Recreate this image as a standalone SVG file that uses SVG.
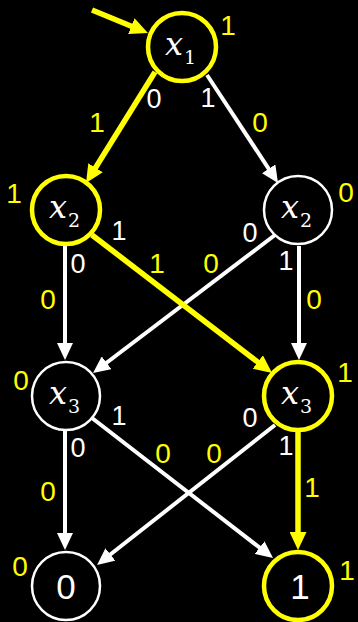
<svg xmlns="http://www.w3.org/2000/svg" width="358" height="622" viewBox="0 0 358 622">
<style>
.w{stroke:#fff;stroke-width:4;fill:none}
.y{stroke:#ff0;stroke-width:5.5;fill:none}
.nw{stroke:#fff;stroke-width:2.5;fill:#000}
.ny{stroke:#ff0;stroke-width:4.5;fill:#000}
.lw{font-family:"Liberation Sans",Arial,sans-serif;font-size:27px;fill:#fff;text-anchor:middle}
.ly{font-family:"Liberation Sans",Arial,sans-serif;font-size:28px;fill:#ff0;text-anchor:middle}
.mx{font-family:"DejaVu Serif",serif;font-style:italic;font-size:32px;fill:#fff}
.ms{font-family:"DejaVu Serif",serif;font-style:normal;font-size:19px;fill:#fff}
.t{font-family:"Liberation Sans",Arial,sans-serif;font-size:35px;fill:#fff;text-anchor:middle}
</style>
<defs>
<marker id="aw" markerUnits="userSpaceOnUse" markerWidth="17" markerHeight="16" viewBox="0 0 17 16" refX="7" refY="8" orient="auto"><path d="M0,0 L17,8 L0,16 Z" fill="#fff"/></marker>
<marker id="ay" markerUnits="userSpaceOnUse" markerWidth="18" markerHeight="17" viewBox="0 0 18 17" refX="8" refY="8.5" orient="auto"><path d="M0,0 L18,8.5 L0,17 Z" fill="#ff0"/></marker>
</defs>
<rect width="358" height="622" fill="#000"/>
<g id="connectors">
<line class="y" x1="92" y1="10" x2="138.7" y2="29.2" marker-end="url(#ay)"/>
<line class="y" x1="155" y1="72" x2="91.3" y2="174.5" marker-end="url(#ay)"/>
<line class="w" x1="207" y1="75" x2="272.5" y2="174.6" marker-end="url(#aw)"/>
<line class="w" x1="65" y1="246" x2="65" y2="350" marker-end="url(#aw)"/>
<line class="w" x1="275" y1="235" x2="101" y2="367" marker-end="url(#aw)"/>
<line class="y" x1="92" y1="235" x2="264.1" y2="366.9" marker-end="url(#ay)"/>
<line class="w" x1="299" y1="246" x2="299" y2="350" marker-end="url(#aw)"/>
<line class="w" x1="65" y1="431" x2="65" y2="540" marker-end="url(#aw)"/>
<line class="w" x1="92" y1="418" x2="265.1" y2="551.9" marker-end="url(#aw)"/>
<line class="w" x1="275" y1="425" x2="104.9" y2="558.8" marker-end="url(#aw)"/>
<line class="y" x1="298" y1="431" x2="298" y2="540" marker-end="url(#ay)"/>
</g>
<g id="node-x1">
<circle class="ny" cx="182" cy="47" r="34"/>
<text class="mx" x="165" y="55">x<tspan class="ms" dx="1" dy="9">1</tspan></text>
<text class="ly" x="228" y="35">1</text>
</g>
<g id="node-x2-left">
<circle class="ny" cx="66" cy="210" r="34"/>
<text class="mx" x="49" y="218">x<tspan class="ms" dx="1" dy="9">2</tspan></text>
<text class="ly" x="14" y="203">1</text>
</g>
<g id="node-x2-right">
<circle class="nw" cx="298" cy="210" r="34"/>
<text class="mx" x="281" y="218">x<tspan class="ms" dx="1" dy="9">2</tspan></text>
<text class="ly" x="346" y="202">0</text>
</g>
<g id="node-x3-left">
<circle class="nw" cx="66" cy="396" r="34"/>
<text class="mx" x="49" y="404">x<tspan class="ms" dx="1" dy="9">3</tspan></text>
<text class="ly" x="21" y="390">0</text>
</g>
<g id="node-x3-right">
<circle class="ny" cx="298" cy="396" r="34"/>
<text class="mx" x="281" y="404">x<tspan class="ms" dx="1" dy="9">3</tspan></text>
<text class="ly" x="345" y="382">1</text>
</g>
<g id="node-0">
<circle class="nw" cx="66" cy="586" r="34"/>
<text class="t" x="66" y="599">0</text>
<text class="ly" x="20" y="576">0</text>
</g>
<g id="node-1">
<circle class="ny" cx="298" cy="586" r="34"/>
<text class="t" x="300" y="599">1</text>
<text class="ly" x="347" y="580">1</text>
</g>
<g id="edge-labels">
<text class="lw" x="154" y="108">0</text>
<text class="lw" x="208" y="107">1</text>
<text class="ly" x="97" y="132">1</text>
<text class="ly" x="260" y="132">0</text>
<text class="lw" x="119" y="240">1</text>
<text class="lw" x="78" y="273">0</text>
<text class="ly" x="157" y="273">1</text>
<text class="ly" x="211" y="273">0</text>
<text class="lw" x="250" y="242">0</text>
<text class="lw" x="286" y="270">1</text>
<text class="ly" x="48" y="309">0</text>
<text class="ly" x="314" y="309">0</text>
<text class="lw" x="119" y="425">1</text>
<text class="lw" x="78" y="457">0</text>
<text class="ly" x="163" y="463">0</text>
<text class="ly" x="214" y="463">0</text>
<text class="lw" x="250" y="427">0</text>
<text class="lw" x="286" y="455">1</text>
<text class="ly" x="48" y="501">0</text>
<text class="ly" x="312" y="497">1</text>
</g>
</svg>
